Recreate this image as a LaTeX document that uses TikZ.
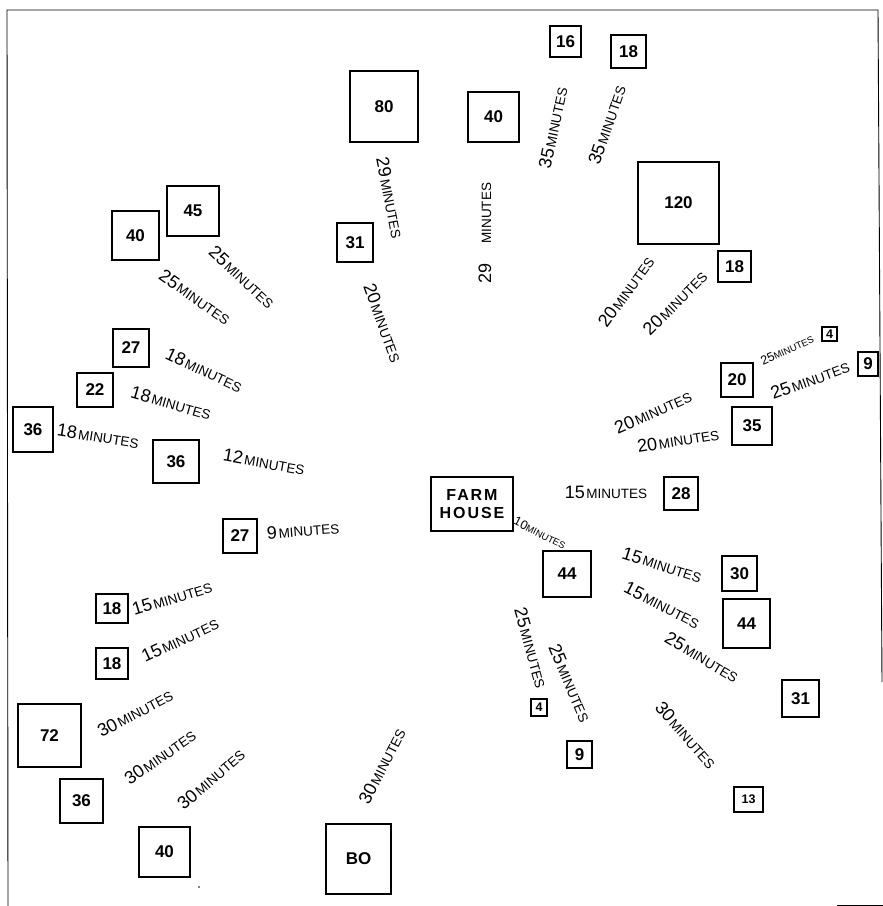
\documentclass[tikz,border=0pt]{standalone}
\usepackage{fontspec}
\setmainfont{Liberation Sans}
\newcommand\mlab[1]{{\fontsize{18}{18}\selectfont #1}\,{\fontsize{13.5}{13.5}\selectfont MINUTES}}
\newcommand\mslab[1]{{\fontsize{12.5}{12.5}\selectfont #1}{\fontsize{9.5}{9.5}\selectfont MINUTES}}
\tikzset{
  plot/.style={draw, line width=1.2pt, inner sep=0pt, font=\fontsize{17}{17}\selectfont\bfseries},
  smallplot/.style={plot, font=\fontsize{12.5}{12.5}\selectfont\bfseries},
  lab/.style={inner sep=0pt, anchor=center},
  frame/.style={line width=0.9pt}
}
\begin{document}
\begin{tikzpicture}[x=1pt,y=-1pt]
\useasboundingbox (0,0) rectangle (883,906);
% frame
\draw[frame] (8,906) -- (7,10) -- (878,10) -- (882,682);
\draw[frame] (837,905) -- (883,905);
% plots (boxes)
\node[plot, minimum width=68pt, minimum height=71pt] (b80t) at (384,106.5) {80};
\node[plot, minimum width=52pt, minimum height=50pt] (b45) at (193,211) {45};
\node[plot, minimum width=47pt, minimum height=49pt] (b40l) at (135.5,235.5) {40};
\node[plot, minimum width=36pt, minimum height=39pt] (b31) at (355,242.5) {31};
\node[plot, minimum width=36pt, minimum height=38pt] (b27a) at (131,348) {27};
\node[plot, minimum width=36pt, minimum height=34pt] (b22) at (95,390) {22};
\node[plot, minimum width=40pt, minimum height=45pt] (b36a) at (33,429.5) {36};
\node[plot, minimum width=46pt, minimum height=43pt] (b36b) at (176,461.5) {36};
\node[plot, minimum width=34pt, minimum height=34pt] (b27b) at (240,536) {27};
\node[plot, minimum width=32pt, minimum height=29pt] (b18a) at (112,608.5) {18};
\node[plot, minimum width=32pt, minimum height=31pt] (b18b) at (112,663.5) {18};
\node[plot, minimum width=63pt, minimum height=63pt] (b72) at (49.5,735.5) {72};
\node[plot, minimum width=43pt, minimum height=44pt] (b36c) at (81.5,801) {36};
\node[plot, minimum width=51pt, minimum height=50pt] (b40b) at (164.5,852) {40};
\node[plot, minimum width=65pt, minimum height=70pt] (b80b) at (358.5,859) {BO};
\node[plot, minimum width=31pt, minimum height=31pt] (b16) at (565.5,41.5) {16};
\node[plot, minimum width=35pt, minimum height=33pt] (b18t) at (628.5,51.5) {18};
\node[plot, minimum width=51pt, minimum height=50pt] (b40t) at (493.5,117) {40};
\node[plot, minimum width=81pt, minimum height=82pt] (b120) at (678.5,203) {120};
\node[plot, minimum width=33pt, minimum height=31pt] (b18r) at (734.5,266.5) {18};
\node[smallplot, minimum width=15pt, minimum height=14pt] (b4t) at (829.5,334) {4};
\node[plot, minimum width=20pt, minimum height=24pt] (b9r) at (868,364) {9};
\node[plot, minimum width=32pt, minimum height=34pt] (b20) at (737,380) {20};
\node[plot, minimum width=40pt, minimum height=38pt] (b35) at (752,426) {35};
\node[plot, minimum width=82pt, minimum height=54pt, align=center,
      font=\fontsize{16}{18}\selectfont\bfseries\addfontfeatures{LetterSpace=12}] (farm) at (472,504) {FARM\\HOUSE};
\node[plot, minimum width=34pt, minimum height=33pt] (b28) at (681,493.5) {28};
\node[plot, minimum width=48pt, minimum height=46pt] (b44c) at (567,574) {44};
\node[plot, minimum width=35pt, minimum height=35pt] (b30) at (739.5,573.5) {30};
\node[plot, minimum width=47pt, minimum height=49pt] (b44r) at (746.5,623.5) {44};
\node[plot, minimum width=37pt, minimum height=37pt] (b31r) at (800.5,698.5) {31};
\node[smallplot, minimum width=16pt, minimum height=17pt] (b4b) at (539,707.5) {4};
\node[plot, minimum width=25pt, minimum height=27pt] (b9b) at (579.5,754.5) {9};
\node[smallplot, minimum width=29pt, minimum height=25pt] (b13) at (748.5,799.5) {13};
\fill (199,887) circle (0.8pt);
% travel-time labels
\node[lab, rotate=-79] (l1) at (390,198) {\mlab{29}};
\node[lab, rotate=-70] (l2) at (383,323) {\mlab{20}};
\node[lab, rotate=-43] (l3) at (242,277) {\mlab{25}};
\node[lab, rotate=-35] (l4) at (195,297) {\mlab{25}};
\node[lab, rotate=-25] (l5) at (204,370) {\mlab{18}};
\node[lab, rotate=-16] (l6) at (171,403) {\mlab{18}};
\node[lab, rotate=-9] (l7) at (98,436) {\mlab{18}};
\node[lab, rotate=-10] (l8) at (264,462) {\mlab{12}};
\node[lab, rotate=4.5] (l9) at (303,530) {\mlab{9}};
\node[lab, rotate=17] (l10) at (172,598) {\mlab{15}};
\node[lab, rotate=25] (l11) at (180,640) {\mlab{15}};
\node[lab, rotate=28] (l12) at (135,713) {\mlab{30}};
\node[lab, rotate=35] (l13) at (160,757) {\mlab{30}};
\node[lab, rotate=41] (l14) at (211,779) {\mlab{30}};
\node[lab, rotate=63] (l15) at (382,766) {\mlab{30}};
\node[lab, rotate=90] (l16) at (485,233) {\mlab{29\quad}};
\node[lab, rotate=78] (l17) at (553,128) {\mlab{35}};
\node[lab, rotate=71] (l18) at (607,125) {\mlab{35}};
\node[lab, rotate=54] (l19) at (626,292) {\mlab{20}};
\node[lab, rotate=45] (l20) at (675,303) {\mlab{20}};
\node[lab, rotate=24.5] (l21) at (787,350) {\mslab{25}};
\node[lab, rotate=20] (l22) at (810,380) {\mlab{25}};
\node[lab, rotate=24] (l23) at (653,412) {\mlab{20}};
\node[lab, rotate=9] (l24) at (678,440) {\mlab{20}};
\node[lab, rotate=0] (l25) at (606,492) {\mlab{15}};
\node[lab, rotate=-27] (l26) at (540,533) {\mslab{10}};
\node[lab, rotate=-18] (l27) at (662,565) {\mlab{15}};
\node[lab, rotate=-27] (l28) at (662,605) {\mlab{15}};
\node[lab, rotate=-31] (l29) at (702,657) {\mlab{25}};
\node[lab, rotate=-74.5] (l30) at (531,648) {\mlab{25}};
\node[lab, rotate=-67] (l31) at (570,683) {\mlab{25}};
\node[lab, rotate=-48.5] (l32) at (686,735) {\mlab{30}};
\end{tikzpicture}
\end{document}
